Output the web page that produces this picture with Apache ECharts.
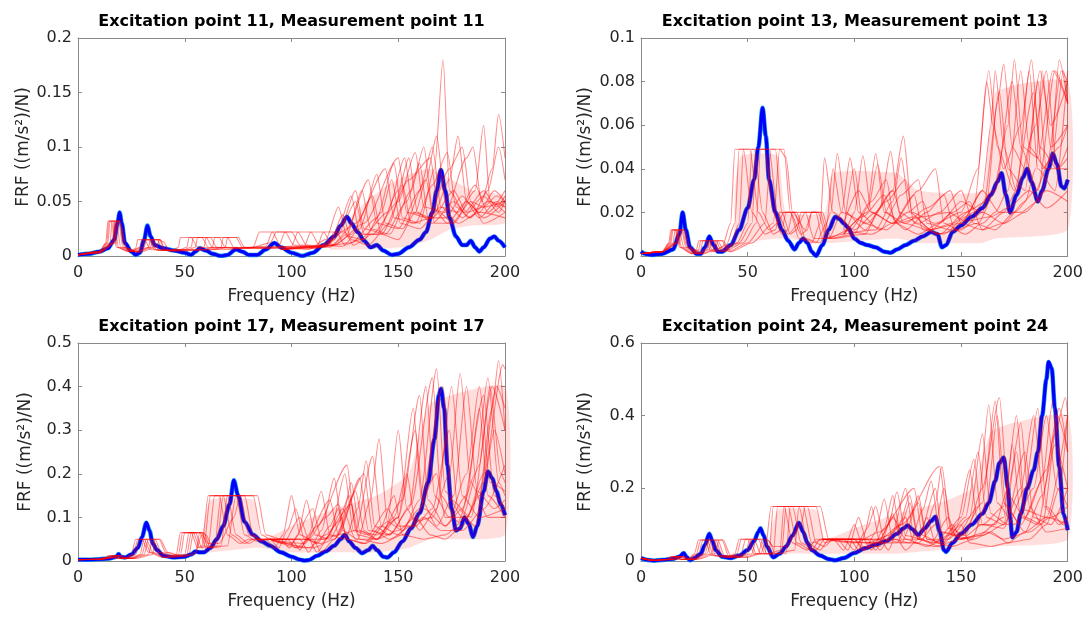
<!DOCTYPE html>
<html><head><meta charset="utf-8">
<script src="https://cdn.jsdelivr.net/npm/echarts@6/dist/echarts.min.js"></script>
<style>html,body{margin:0;padding:0;background:#fff}#c{width:1086px;height:617px}</style>
</head><body><div id="c"></div>
<script>
// ---------------- data ----------------
const xTicks = [0, 50, 100, 150, 200];
const titles = ["Excitation point 11, Measurement point 11", "Excitation point 13, Measurement point 13",
                "Excitation point 17, Measurement point 17", "Excitation point 24, Measurement point 24"];
const yMax = [0.2, 0.1, 0.5, 0.6];
const yStep = [0.05, 0.02, 0.1, 0.2];
const xName = "Frequency (Hz)";
const yName = "FRF ((m/s²)/N)";

const p1Blue = [[0,0.001],[5,0.002],[10,0.004],[14,0.007],[17,0.015],[18.5,0.03],[19.5,0.04],[20.5,0.03],[22,0.012],[25,0.004],[27,0.001],[29,0.003],[31,0.015],[32.5,0.028],[34,0.018],[36,0.01],[40,0.007],[45,0.005],[50,0.003],[53,0.001],[55,0.004],[57,0.007],[60,0.005],[63,0.002],[67,0.0],[70,0.001],[74,0.006],[77,0.004],[80,0.001],[84,0.001],[88,0.006],[92,0.012],[95,0.008],[100,0.003],[105,0.0],[110,0.003],[115,0.01],[120,0.018],[123,0.028],[126,0.036],[128,0.03],[131,0.022],[134,0.014],[137,0.008],[140,0.01],[143,0.005],[147,0.001],[150,0.002],[155,0.008],[160,0.015],[163,0.022],[166,0.04],[168,0.06],[170,0.079],[172,0.06],[174,0.035],[177,0.018],[180,0.01],[182,0.01],[184,0.014],[186,0.008],[188,0.004],[190,0.008],[193,0.016],[195,0.018],[197,0.014],[200,0.008]];
const p1Red = [
[[0,0.001],[10,0.004],[13,0.012],[14,0.032],[15.5,0.032],[18,0.008],[24,0.004],[27,0.007],[28,0.015],[31,0.015],[34,0.006],[44,0.005],[47,0.008],[48,0.017],[53,0.017],[56,0.008],[70,0.006],[82,0.008],[85,0.022],[91,0.022],[95,0.009],[108,0.006],[116,0.015],[122,0.045],[126,0.018],[134,0.015],[142,0.04],[147,0.07],[151,0.03],[160,0.025],[170,0.045],[178,0.03],[188,0.04],[200,0.035]],
[[0,0.001],[10,0.004],[14,0.012],[15,0.032],[17,0.032],[19,0.008],[25,0.004],[29,0.008],[30,0.015],[33,0.015],[36,0.006],[48,0.006],[51,0.008],[52,0.017],[58,0.017],[61,0.008],[75,0.007],[88,0.009],[91,0.022],[97,0.022],[101,0.01],[112,0.007],[120,0.015],[128,0.055],[132,0.02],[140,0.02],[150,0.06],[155,0.09],[159,0.04],[166,0.03],[176,0.05],[183,0.035],[192,0.05],[200,0.045]],
[[0,0.001],[10,0.003],[15,0.012],[16,0.032],[18,0.032],[20,0.008],[26,0.004],[31,0.008],[32,0.015],[35,0.015],[38,0.005],[52,0.006],[55,0.008],[56,0.017],[62,0.017],[65,0.008],[80,0.007],[94,0.009],[97,0.022],[103,0.022],[107,0.01],[118,0.008],[126,0.02],[133,0.06],[137,0.025],[146,0.02],[156,0.06],[162,0.1],[166,0.045],[173,0.03],[182,0.05],[190,0.035],[200,0.05]],
[[0,0.001],[10,0.003],[16,0.012],[17,0.032],[19,0.032],[21,0.008],[27,0.004],[33,0.008],[34,0.015],[37,0.015],[40,0.005],[56,0.006],[59,0.008],[60,0.017],[66,0.017],[69,0.008],[85,0.007],[100,0.009],[103,0.022],[109,0.022],[113,0.01],[124,0.009],[132,0.025],[140,0.075],[144,0.03],[152,0.025],[163,0.07],[168,0.11],[172,0.05],[180,0.035],[190,0.055],[197,0.04],[200,0.05]],
[[0,0.001],[10,0.003],[17,0.012],[18,0.032],[20,0.032],[22,0.008],[28,0.004],[35,0.008],[36,0.015],[38.5,0.015],[41,0.005],[60,0.006],[63,0.008],[64,0.017],[70,0.017],[73,0.008],[88,0.007],[106,0.009],[109,0.022],[115,0.022],[119,0.01],[128,0.012],[140,0.035],[148,0.085],[152,0.035],[160,0.03],[167,0.08],[171,0.18],[174,0.06],[181,0.04],[190,0.06],[196,0.045],[200,0.055]],
[[0,0.001],[10,0.003],[17.5,0.012],[18.5,0.032],[20,0.028],[23,0.006],[28,0.003],[37,0.008],[38,0.015],[40,0.013],[43,0.004],[64,0.006],[67,0.008],[68,0.017],[74,0.017],[77,0.008],[92,0.007],[112,0.009],[115,0.022],[121,0.022],[125,0.01],[132,0.015],[145,0.04],[153,0.09],[157,0.04],[166,0.035],[174,0.07],[178,0.11],[182,0.05],[188,0.04],[195,0.06],[200,0.05]],
[[0,0.001],[10,0.004],[13.5,0.012],[14.5,0.032],[16.5,0.032],[18.5,0.008],[24,0.004],[30,0.008],[31,0.015],[34,0.015],[37,0.005],[66,0.006],[69,0.008],[70,0.017],[75,0.017],[78,0.008],[95,0.008],[117,0.009],[120,0.022],[125,0.022],[129,0.01],[138,0.02],[150,0.05],[158,0.095],[162,0.045],[172,0.04],[182,0.09],[185,0.1],[189,0.05],[194,0.08],[197,0.13],[200,0.09]],
[[0,0.001],[10,0.004],[16.5,0.012],[17.5,0.032],[19.5,0.032],[21.5,0.008],[27,0.004],[34,0.008],[35,0.015],[38,0.015],[41,0.005],[50,0.006],[53,0.008],[54,0.017],[60,0.017],[63,0.008],[80,0.007],[90,0.012],[93,0.022],[100,0.022],[104,0.01],[116,0.008],[124,0.03],[130,0.05],[134,0.02],[142,0.02],[155,0.07],[165,0.09],[169,0.04],[176,0.03],[186,0.06],[190,0.12],[193,0.05],[200,0.04]],
[[95,0.006],[110,0.007],[118,0.012],[124,0.038],[128,0.015],[136,0.01],[146,0.03],[152,0.065],[156,0.03],[166,0.035],[176,0.06],[182,0.04],[190,0.045],[200,0.05]],
[[95,0.006],[112,0.008],[122,0.02],[130,0.06],[134,0.025],[144,0.02],[154,0.05],[160,0.085],[164,0.035],[172,0.035],[180,0.055],[188,0.035],[196,0.05],[200,0.045]],
[[95,0.006],[115,0.008],[126,0.025],[136,0.07],[140,0.03],[150,0.025],[160,0.06],[166,0.1],[170,0.045],[178,0.04],[186,0.065],[192,0.04],[200,0.06]],
[[95,0.006],[118,0.009],[130,0.03],[144,0.08],[148,0.035],[158,0.03],[166,0.065],[173,0.095],[177,0.045],[184,0.035],[192,0.06],[197,0.1],[200,0.07]],
[[95,0.006],[120,0.01],[134,0.03],[150,0.09],[154,0.04],[164,0.035],[174,0.08],[180,0.1],[184,0.05],[190,0.045],[196,0.055],[200,0.05]],
[[95,0.006],[120,0.01],[128,0.02],[138,0.055],[142,0.02],[150,0.015],[158,0.04],[163,0.07],[167,0.03],[175,0.03],[184,0.05],[190,0.03],[200,0.04]]
];
const p1Band = [[118,0.006,0.01],[125,0.006,0.03],[135,0.006,0.05],[145,0.007,0.065],[155,0.009,0.075],[165,0.015,0.08],[175,0.025,0.07],[185,0.028,0.06],[200,0.03,0.055]];

const p2Blue = [[0,0.002],[2,0.001],[5,0.0005],[10,0.001],[15,0.003],[18,0.01],[19.5,0.02],[21,0.012],[23,0.004],[26,0.001],[28,0.001],[30,0.004],[32,0.009],[34,0.005],[36,0.002],[38,0.002],[42,0.005],[46,0.012],[50,0.022],[53,0.035],[55,0.05],[57,0.068],[58.5,0.055],[60,0.035],[63,0.02],[66,0.012],[69,0.007],[72,0.003],[74,0.006],[76,0.008],[78,0.006],[80,0.002],[82,0.0],[85,0.005],[88,0.012],[91,0.018],[93,0.017],[95,0.015],[97,0.013],[100,0.008],[103,0.006],[106,0.005],[110,0.004],[114,0.002],[117,0.0015],[120,0.003],[124,0.005],[128,0.007],[132,0.009],[136,0.011],[139,0.01],[141,0.004],[143,0.005],[146,0.011],[150,0.014],[155,0.018],[160,0.022],[164,0.028],[167,0.034],[169,0.038],[171,0.028],[173,0.02],[176,0.028],[179,0.036],[181,0.04],[183,0.034],[186,0.025],[188,0.03],[191,0.04],[193,0.047],[195,0.042],[197,0.032],[198.5,0.031],[200,0.035]];
const p2Red = [
[[0,0.001],[10,0.002],[13,0.006],[14,0.012],[16,0.012],[18,0.004],[24,0.001],[26,0.003],[27,0.007],[30,0.007],[33,0.002],[38,0.004],[42,0.015],[44,0.049],[48,0.049],[52,0.02],[58,0.01],[63,0.012],[65,0.02],[70,0.02],[74,0.008],[80,0.006],[84,0.015],[86,0.045],[90,0.02],[100,0.012],[110,0.02],[118,0.03],[123,0.015],[135,0.012],[150,0.015],[160,0.03],[164,0.06],[166,0.085],[170,0.05],[176,0.03],[185,0.06],[190,0.085],[195,0.04],[200,0.05]],
[[0,0.001],[10,0.002],[14,0.006],[15,0.012],[17,0.012],[19,0.004],[25,0.001],[28,0.003],[29,0.007],[32,0.007],[35,0.002],[42,0.005],[46,0.015],[48,0.049],[53,0.049],[57,0.02],[62,0.01],[66,0.012],[68,0.02],[73,0.02],[77,0.008],[84,0.006],[89,0.02],[92,0.047],[96,0.02],[105,0.012],[115,0.025],[124,0.035],[128,0.015],[140,0.01],[152,0.02],[162,0.025],[167,0.07],[170,0.088],[174,0.05],[180,0.04],[187,0.085],[192,0.06],[200,0.08]],
[[0,0.001],[10,0.002],[15,0.006],[16,0.012],[18,0.012],[20,0.004],[26,0.001],[30,0.003],[31,0.007],[34,0.007],[37,0.002],[45,0.006],[50,0.015],[52,0.049],[58,0.049],[62,0.02],[66,0.01],[69,0.012],[71,0.02],[77,0.02],[81,0.008],[88,0.008],[94,0.02],[98,0.045],[102,0.02],[112,0.012],[122,0.028],[130,0.035],[134,0.015],[145,0.012],[156,0.02],[165,0.03],[172,0.06],[175,0.09],[179,0.05],[186,0.045],[193,0.085],[200,0.07]],
[[0,0.001],[10,0.002],[16,0.006],[17,0.012],[19,0.012],[21,0.004],[27,0.001],[32,0.003],[33,0.007],[36,0.007],[39,0.002],[48,0.006],[54,0.015],[56,0.049],[63,0.049],[66,0.02],[70,0.01],[73,0.012],[75,0.02],[82,0.02],[85,0.008],[95,0.01],[100,0.02],[104,0.046],[108,0.02],[118,0.015],[130,0.03],[138,0.04],[142,0.015],[152,0.01],[160,0.015],[166,0.02],[172,0.03],[178,0.085],[182,0.05],[190,0.04],[197,0.085],[200,0.08]],
[[0,0.001],[10,0.002],[17,0.006],[18,0.012],[20,0.012],[22,0.004],[28,0.001],[34,0.003],[35,0.007],[38,0.007],[41,0.002],[50,0.006],[58,0.015],[61,0.049],[67,0.049],[70,0.02],[75,0.01],[78,0.012],[80,0.02],[84,0.02],[88,0.008],[100,0.01],[106,0.022],[110,0.047],[114,0.02],[124,0.015],[134,0.022],[145,0.03],[150,0.015],[160,0.012],[170,0.015],[180,0.025],[185,0.04],[188,0.085],[192,0.05],[200,0.06]],
[[0,0.001],[10,0.002],[18,0.006],[19,0.012],[20.5,0.012],[23,0.004],[29,0.001],[35,0.003],[36,0.007],[38.5,0.007],[42,0.002],[52,0.006],[62,0.015],[65,0.049],[68,0.045],[71,0.02],[77,0.012],[80,0.02],[85,0.02],[89,0.008],[105,0.01],[112,0.022],[117,0.048],[121,0.02],[130,0.015],[140,0.02],[150,0.03],[156,0.015],[166,0.012],[175,0.02],[185,0.03],[192,0.045],[196,0.09],[200,0.07]],
[[0,0.001],[10,0.002],[13.5,0.006],[14.5,0.012],[16.5,0.012],[18.5,0.004],[24,0.001],[27,0.003],[28,0.007],[31,0.007],[34,0.002],[40,0.005],[44,0.015],[46,0.049],[51,0.049],[55,0.02],[60,0.012],[64,0.015],[67,0.02],[72,0.02],[76,0.008],[82,0.006],[87,0.015],[90,0.04],[94,0.02],[106,0.015],[118,0.03],[123,0.055],[127,0.02],[138,0.015],[150,0.02],[158,0.04],[162,0.08],[165,0.06],[170,0.04],[178,0.06],[183,0.09],[187,0.05],[195,0.04],[200,0.045]],
[[0,0.001],[10,0.002],[16.5,0.006],[17.5,0.012],[19.5,0.012],[21.5,0.004],[27,0.001],[31,0.003],[32,0.007],[35,0.007],[38,0.002],[46,0.006],[52,0.015],[54,0.049],[60,0.049],[64,0.02],[69,0.01],[74,0.015],[77,0.02],[83,0.02],[87,0.008],[98,0.012],[108,0.025],[115,0.035],[119,0.015],[130,0.01],[140,0.015],[150,0.025],[160,0.02],[170,0.015],[180,0.02],[190,0.03],[200,0.025]],
[[95,0.012],[100,0.04],[104,0.015],[115,0.012],[125,0.02],[132,0.025],[138,0.01],[150,0.012],[160,0.02],[168,0.075],[172,0.04],[180,0.03],[186,0.08],[190,0.04],[200,0.04]],
[[95,0.01],[106,0.02],[111,0.042],[115,0.02],[124,0.012],[134,0.02],[142,0.028],[147,0.012],[158,0.015],[166,0.03],[174,0.08],[178,0.05],[186,0.03],[194,0.085],[200,0.07]],
[[95,0.01],[110,0.012],[118,0.025],[122,0.045],[126,0.02],[136,0.012],[146,0.02],[154,0.025],[160,0.012],[170,0.02],[176,0.03],[182,0.085],[186,0.04],[194,0.03],[200,0.085]],
[[95,0.015],[102,0.03],[108,0.02],[118,0.015],[128,0.018],[136,0.012],[146,0.015],[156,0.022],[163,0.085],[167,0.05],[175,0.03],[184,0.075],[188,0.04],[196,0.05],[200,0.06]],
[[95,0.012],[108,0.01],[118,0.015],[128,0.028],[132,0.012],[142,0.01],[152,0.018],[160,0.03],[168,0.02],[178,0.02],[186,0.025],[192,0.04],[198,0.085],[200,0.07]],
[[95,0.01],[104,0.018],[114,0.028],[120,0.015],[132,0.018],[144,0.02],[152,0.016],[164,0.018],[172,0.022],[182,0.03],[190,0.022],[200,0.03]]
];
const p2Band = [[44,0.004,0.03],[47,0.006,0.046],[64,0.008,0.046],[68,0.008,0.02],[86,0.006,0.02],[90,0.006,0.038],[120,0.008,0.038],[130,0.006,0.03],[160,0.006,0.03],[166,0.008,0.075],[200,0.012,0.08]];

const p3Blue = [[0,0.003],[5,0.003],[10,0.004],[15,0.006],[18,0.01],[19,0.016],[20,0.01],[22,0.008],[25,0.015],[28,0.03],[30,0.055],[32,0.088],[33.5,0.07],[35,0.04],[37,0.025],[40,0.012],[45,0.008],[50,0.01],[53,0.015],[55,0.022],[57,0.02],[59,0.02],[62,0.03],[65,0.05],[68,0.08],[71,0.13],[73,0.185],[75,0.15],[78,0.09],[82,0.06],[86,0.045],[90,0.035],[95,0.02],[100,0.01],[104,0.003],[106,0.001],[108,0.002],[112,0.012],[116,0.022],[120,0.035],[123,0.05],[125,0.06],[127,0.045],[130,0.03],[133,0.018],[136,0.025],[138,0.035],[140,0.025],[143,0.01],[145,0.008],[148,0.02],[152,0.045],[156,0.075],[160,0.11],[164,0.18],[167,0.28],[169,0.38],[170,0.395],[171.5,0.35],[173,0.22],[175,0.12],[177,0.07],[179,0.075],[181,0.1],[183,0.085],[185,0.055],[187,0.08],[190,0.16],[192,0.205],[194,0.19],[196,0.16],[198,0.13],[200,0.105]];
const p3Red = [
[[0,0.003],[10,0.004],[13,0.008],[14,0.012],[16,0.012],[18,0.006],[22,0.006],[25,0.015],[27,0.05],[30,0.05],[33,0.02],[40,0.008],[46,0.015],[48,0.065],[53,0.065],[56,0.03],[58,0.035],[61,0.15],[66,0.15],[70,0.06],[76,0.04],[80,0.05],[88,0.05],[92,0.03],[96,0.06],[100,0.15],[104,0.06],[112,0.04],[118,0.08],[122,0.12],[126,0.05],[135,0.04],[145,0.09],[150,0.3],[154,0.12],[160,0.07],[168,0.12],[175,0.4],[180,0.15],[188,0.1],[200,0.12]],
[[0,0.003],[10,0.004],[14,0.008],[15,0.012],[17,0.012],[19,0.006],[23,0.006],[27,0.015],[29,0.05],[32,0.05],[35,0.02],[42,0.008],[48,0.015],[50,0.065],[55,0.065],[58,0.03],[61,0.035],[64,0.15],[70,0.15],[74,0.06],[80,0.04],[84,0.05],[95,0.05],[99,0.03],[103,0.06],[107,0.14],[111,0.06],[118,0.05],[124,0.1],[128,0.18],[132,0.07],[140,0.05],[150,0.1],[157,0.35],[161,0.14],[168,0.08],[176,0.15],[182,0.4],[187,0.16],[195,0.12],[200,0.14]],
[[0,0.003],[10,0.004],[15,0.008],[16,0.012],[18,0.012],[20,0.006],[24,0.006],[29,0.015],[31,0.05],[34,0.05],[37,0.02],[44,0.01],[50,0.015],[52,0.065],[57,0.065],[60,0.03],[64,0.035],[67,0.15],[74,0.15],[78,0.06],[84,0.045],[88,0.05],[100,0.05],[104,0.025],[108,0.06],[114,0.16],[118,0.06],[125,0.05],[131,0.12],[135,0.23],[139,0.08],[146,0.06],[155,0.12],[163,0.4],[167,0.15],[174,0.1],[182,0.2],[188,0.4],[193,0.18],[200,0.16]],
[[0,0.003],[10,0.004],[16,0.008],[17,0.012],[19,0.012],[21,0.006],[25,0.006],[31,0.015],[33,0.05],[36,0.05],[39,0.02],[46,0.01],[52,0.015],[54,0.065],[59,0.065],[62,0.03],[67,0.035],[70,0.15],[78,0.15],[82,0.06],[86,0.045],[90,0.05],[104,0.05],[108,0.02],[114,0.07],[120,0.19],[124,0.07],[131,0.05],[137,0.14],[141,0.28],[145,0.09],[152,0.07],[160,0.14],[168,0.44],[172,0.16],[180,0.1],[188,0.22],[193,0.4],[198,0.2],[200,0.18]],
[[0,0.003],[10,0.004],[17,0.008],[18,0.012],[20,0.012],[22,0.006],[26,0.006],[33,0.015],[35,0.05],[38,0.05],[41,0.02],[48,0.01],[55,0.015],[57,0.065],[60,0.06],[63,0.03],[70,0.035],[74,0.15],[82,0.15],[86,0.06],[90,0.05],[108,0.05],[112,0.02],[118,0.06],[125,0.2],[129,0.07],[136,0.06],[145,0.12],[150,0.08],[158,0.08],[166,0.12],[174,0.3],[178,0.12],[186,0.08],[194,0.35],[197,0.46],[200,0.3]],
[[0,0.003],[10,0.004],[18,0.008],[19,0.012],[20.5,0.012],[23,0.006],[27,0.006],[35,0.015],[36,0.05],[38.5,0.05],[42,0.02],[50,0.01],[55,0.02],[58,0.06],[61,0.04],[66,0.04],[73,0.1],[76,0.15],[84,0.15],[88,0.06],[95,0.05],[110,0.05],[114,0.02],[120,0.05],[130,0.16],[134,0.07],[140,0.05],[150,0.07],[158,0.1],[165,0.06],[172,0.05],[180,0.08],[188,0.15],[196,0.4],[200,0.35]],
[[0,0.003],[10,0.004],[13.5,0.008],[14.5,0.012],[16.5,0.012],[18.5,0.006],[22,0.006],[26,0.015],[28,0.05],[31,0.05],[34,0.02],[41,0.008],[47,0.015],[49,0.065],[54,0.065],[57,0.03],[59,0.035],[62,0.15],[68,0.15],[72,0.06],[78,0.04],[82,0.05],[90,0.05],[94,0.03],[98,0.07],[102,0.12],[106,0.05],[114,0.04],[122,0.09],[127,0.15],[131,0.06],[140,0.05],[148,0.1],[154,0.2],[158,0.09],[166,0.1],[174,0.2],[179,0.43],[184,0.18],[192,0.1],[200,0.1]],
[[0,0.003],[10,0.004],[16.5,0.008],[17.5,0.012],[19.5,0.012],[21.5,0.006],[25,0.006],[30,0.015],[32,0.05],[35,0.05],[38,0.02],[45,0.008],[51,0.015],[53,0.065],[58,0.065],[61,0.03],[65,0.035],[68,0.15],[76,0.15],[80,0.06],[86,0.05],[98,0.05],[102,0.03],[108,0.05],[116,0.1],[122,0.13],[126,0.05],[134,0.04],[142,0.08],[148,0.15],[152,0.06],[162,0.05],[172,0.06],[182,0.1],[190,0.18],[195,0.3],[200,0.2]],
[[90,0.05],[96,0.04],[104,0.1],[108,0.05],[116,0.05],[124,0.12],[130,0.05],[140,0.05],[152,0.14],[160,0.38],[164,0.14],[172,0.08],[180,0.12],[190,0.38],[195,0.15],[200,0.12]],
[[90,0.05],[100,0.04],[110,0.12],[114,0.05],[122,0.06],[132,0.19],[136,0.07],[146,0.06],[156,0.13],[166,0.42],[170,0.15],[178,0.09],[186,0.2],[192,0.42],[197,0.18],[200,0.15]],
[[90,0.05],[106,0.04],[118,0.14],[122,0.06],[130,0.07],[138,0.24],[142,0.08],[150,0.06],[160,0.12],[171,0.4],[175,0.14],[184,0.1],[194,0.4],[200,0.3]],
[[90,0.05],[104,0.03],[112,0.08],[126,0.22],[130,0.07],[140,0.06],[150,0.1],[158,0.3],[162,0.12],[172,0.08],[182,0.15],[188,0.35],[192,0.15],[200,0.1]],
[[90,0.05],[110,0.03],[120,0.05],[134,0.2],[138,0.07],[146,0.05],[156,0.08],[168,0.2],[172,0.1],[182,0.1],[190,0.2],[199,0.45],[200,0.44]],
[[90,0.05],[108,0.03],[116,0.06],[128,0.13],[132,0.05],[142,0.04],[152,0.06],[162,0.1],[170,0.07],[180,0.07],[190,0.12],[200,0.22]]
];
const p3Band = [[58,0.02,0.05],[62,0.02,0.14],[82,0.03,0.14],[86,0.03,0.05],[100,0.02,0.08],[120,0.02,0.12],[140,0.02,0.15],[155,0.03,0.2],[165,0.05,0.36],[200,0.06,0.4]];

const p4Blue = [[0,0.008],[3,0.003],[6,0.001],[10,0.003],[15,0.006],[18,0.012],[20,0.022],[21.5,0.01],[23,0.002],[25,0.008],[28,0.02],[30,0.045],[32,0.075],[33.5,0.055],[35,0.03],[38,0.012],[42,0.008],[46,0.015],[50,0.03],[53,0.055],[55,0.08],[56,0.09],[57.5,0.07],[59,0.04],[62,0.01],[65,0.02],[68,0.04],[71,0.07],[74,0.105],[76,0.08],[78,0.05],[80,0.03],[84,0.015],[88,0.005],[91,0.002],[95,0.008],[100,0.022],[105,0.035],[110,0.045],[115,0.055],[120,0.075],[123,0.09],[125,0.098],[127,0.088],[130,0.072],[133,0.09],[136,0.11],[138,0.122],[140,0.08],[142,0.03],[143,0.025],[146,0.05],[150,0.075],[155,0.1],[160,0.13],[163,0.16],[166,0.22],[168,0.27],[170,0.285],[172,0.2],[173,0.12],[174,0.065],[176,0.08],[178,0.13],[181,0.2],[184,0.25],[186,0.3],[188,0.4],[190,0.5],[191,0.548],[192.5,0.53],[194,0.42],[196,0.26],[198,0.13],[200,0.085]];
const p4Red = [
[[0,0.008],[6,0.002],[12,0.005],[14,0.012],[16,0.012],[18,0.004],[22,0.005],[25,0.02],[27,0.058],[30,0.058],[33,0.015],[40,0.01],[44,0.02],[46,0.06],[50,0.06],[53,0.02],[58,0.02],[61,0.15],[67,0.15],[71,0.05],[78,0.03],[82,0.06],[90,0.06],[95,0.03],[100,0.1],[104,0.04],[112,0.04],[118,0.13],[122,0.05],[130,0.05],[138,0.1],[142,0.2],[146,0.07],[155,0.06],[162,0.16],[167,0.4],[171,0.15],[180,0.08],[190,0.12],[200,0.1]],
[[0,0.008],[6,0.002],[13,0.005],[15,0.012],[17,0.012],[19,0.004],[23,0.005],[27,0.02],[29,0.058],[32,0.058],[35,0.015],[42,0.01],[47,0.02],[49,0.06],[53,0.06],[56,0.02],[62,0.02],[64,0.15],[71,0.15],[75,0.05],[82,0.03],[86,0.06],[95,0.06],[100,0.03],[105,0.08],[108,0.15],[112,0.05],[120,0.05],[126,0.12],[130,0.18],[134,0.06],[142,0.05],[152,0.12],[158,0.3],[162,0.12],[170,0.1],[178,0.2],[184,0.4],[189,0.15],[196,0.1],[200,0.12]],
[[0,0.008],[6,0.002],[14,0.005],[16,0.012],[18,0.012],[20,0.004],[24,0.005],[29,0.02],[31,0.058],[34,0.058],[37,0.015],[44,0.01],[49,0.02],[51,0.06],[55,0.06],[58,0.02],[65,0.02],[67,0.15],[74,0.15],[78,0.05],[84,0.03],[88,0.06],[100,0.06],[105,0.03],[110,0.08],[114,0.17],[118,0.06],[126,0.05],[132,0.14],[136,0.22],[140,0.08],[148,0.07],[158,0.15],[163,0.43],[167,0.16],[175,0.1],[184,0.2],[190,0.4],[195,0.2],[200,0.15]],
[[0,0.008],[6,0.002],[15,0.005],[17,0.012],[19,0.012],[21,0.004],[25,0.005],[31,0.02],[33,0.058],[36,0.058],[39,0.015],[46,0.01],[52,0.02],[54,0.06],[58,0.06],[61,0.02],[68,0.02],[70,0.15],[78,0.15],[82,0.05],[86,0.04],[90,0.06],[106,0.06],[110,0.03],[116,0.1],[120,0.19],[124,0.07],[132,0.06],[138,0.16],[141,0.26],[145,0.09],[152,0.07],[160,0.2],[168,0.45],[172,0.18],[180,0.12],[190,0.25],[195,0.4],[200,0.3]],
[[0,0.008],[6,0.002],[16,0.005],[18,0.012],[20,0.012],[22,0.004],[26,0.005],[33,0.02],[35,0.058],[38,0.058],[41,0.015],[48,0.01],[55,0.02],[57,0.06],[60,0.055],[63,0.02],[72,0.03],[74,0.15],[82,0.15],[86,0.05],[92,0.06],[112,0.06],[116,0.03],[120,0.08],[126,0.18],[130,0.06],[138,0.05],[146,0.1],[150,0.06],[160,0.07],[170,0.1],[176,0.3],[180,0.12],[188,0.1],[196,0.42],[200,0.3]],
[[0,0.008],[6,0.002],[17,0.005],[19,0.012],[20.5,0.012],[23,0.004],[27,0.005],[35,0.02],[36.5,0.058],[38.5,0.058],[42,0.015],[50,0.01],[56,0.02],[59,0.06],[62,0.04],[68,0.04],[75,0.1],[77,0.15],[84,0.15],[88,0.06],[98,0.06],[120,0.06],[124,0.03],[130,0.06],[134,0.12],[138,0.05],[146,0.04],[156,0.06],[164,0.08],[172,0.05],[182,0.06],[190,0.1],[196,0.2],[200,0.4]],
[[0,0.008],[6,0.002],[13.5,0.005],[14.5,0.012],[16.5,0.012],[18.5,0.004],[22,0.005],[26,0.02],[28,0.058],[31,0.058],[34,0.015],[41,0.01],[45,0.02],[47,0.06],[51,0.06],[54,0.02],[60,0.02],[62,0.15],[69,0.15],[73,0.05],[80,0.03],[84,0.06],[92,0.06],[97,0.03],[102,0.12],[106,0.05],[114,0.05],[122,0.1],[126,0.16],[130,0.06],[140,0.04],[148,0.1],[154,0.25],[158,0.1],[166,0.1],[172,0.2],[178,0.38],[182,0.15],[190,0.08],[200,0.09]],
[[0,0.008],[6,0.002],[16.5,0.005],[17.5,0.012],[19.5,0.012],[21.5,0.004],[25,0.005],[30,0.02],[32,0.058],[35,0.058],[38,0.015],[45,0.01],[50,0.02],[52,0.06],[56,0.06],[59,0.02],[66,0.03],[68,0.15],[76,0.15],[80,0.05],[86,0.06],[100,0.06],[104,0.03],[112,0.06],[118,0.12],[124,0.06],[134,0.04],[144,0.07],[150,0.1],[154,0.05],[164,0.04],[172,0.05],[180,0.08],[188,0.18],[194,0.32],[200,0.2]],
[[85,0.06],[98,0.06],[102,0.03],[106,0.09],[110,0.15],[114,0.06],[122,0.05],[130,0.16],[134,0.06],[144,0.06],[154,0.12],[160,0.35],[164,0.13],[172,0.1],[180,0.2],[186,0.42],[190,0.15],[198,0.1],[200,0.12]],
[[85,0.06],[104,0.06],[108,0.03],[114,0.09],[118,0.18],[122,0.06],[130,0.06],[138,0.2],[141,0.08],[150,0.07],[160,0.16],[166,0.44],[170,0.16],[178,0.1],[188,0.22],[193,0.44],[198,0.2],[200,0.2]],
[[85,0.06],[108,0.06],[112,0.03],[118,0.08],[124,0.2],[128,0.07],[136,0.05],[144,0.12],[148,0.06],[158,0.07],[170,0.12],[174,0.32],[178,0.12],[186,0.1],[194,0.35],[199,0.45],[200,0.4]],
[[85,0.06],[100,0.05],[112,0.08],[128,0.2],[132,0.07],[140,0.05],[150,0.12],[156,0.28],[160,0.1],[170,0.09],[180,0.3],[184,0.12],[192,0.1],[200,0.2]],
[[85,0.06],[110,0.05],[122,0.1],[140,0.26],[144,0.09],[150,0.06],[160,0.1],[170,0.15],[176,0.4],[180,0.14],[190,0.12],[200,0.4]],
[[85,0.06],[106,0.05],[116,0.07],[124,0.12],[128,0.05],[138,0.04],[150,0.06],[162,0.08],[170,0.06],[182,0.08],[192,0.12],[200,0.15]]
];
const p4Band = [[60,0.01,0.05],[64,0.02,0.14],[82,0.02,0.14],[86,0.02,0.06],[100,0.02,0.09],[120,0.02,0.13],[140,0.03,0.16],[155,0.03,0.2],[165,0.04,0.36],[200,0.06,0.4]];

const blues = [p1Blue, p2Blue, p3Blue, p4Blue];
const reds = [p1Red, p2Red, p3Red, p4Red];
const bands = [p1Band, p2Band, p3Band, p4Band];

// ---------------- layout / style ----------------
const FONT = "'DejaVu Sans', 'Liberation Sans', sans-serif";
const grids = [
  {left: 78, top: 38, width: 427, height: 218},
  {left: 641, top: 38, width: 428, height: 218},
  {left: 78, top: 343, width: 427, height: 218},
  {left: 641, top: 343, width: 428, height: 218}
];
const boxColor = '#8a8a8a';
const labelColor = '#262626';

const xAxes = [], yAxes = [], series = [], graphics = [], blueSeriesIdx = [];
grids.forEach((g, i) => {
  const baseX = {
    type: 'value', gridIndex: i, min: xTicks[0], max: xTicks[xTicks.length - 1],
    interval: xTicks[1] - xTicks[0],
    axisLine: {show: true, onZero: false, lineStyle: {color: boxColor, width: 1}},
    axisTick: {show: true, inside: true, length: 4, lineStyle: {color: boxColor}},
    splitLine: {show: false}
  };
  xAxes.push(Object.assign({}, baseX, {
    position: 'bottom',
    axisLabel: {color: labelColor, fontSize: 16, fontFamily: FONT, margin: 9},
    name: xName, nameLocation: 'middle', nameGap: 32,
    nameTextStyle: {color: labelColor, fontSize: 17, fontFamily: FONT}
  }));
  xAxes.push(Object.assign({}, baseX, {position: 'top', axisLabel: {show: false}}));
  const baseY = {
    type: 'value', gridIndex: i, min: 0, max: yMax[i], interval: yStep[i],
    axisLine: {show: true, onZero: false, lineStyle: {color: boxColor, width: 1}},
    axisTick: {show: true, inside: true, length: 4, lineStyle: {color: boxColor}},
    splitLine: {show: false}
  };
  yAxes.push(Object.assign({}, baseY, {
    position: 'left',
    axisLabel: {color: labelColor, fontSize: 16, fontFamily: FONT, margin: 6},
    name: yName, nameLocation: 'middle', nameGap: (i % 2 === 0 ? 44 : 47),
    nameTextStyle: {color: labelColor, fontSize: 17, fontFamily: FONT}
  }));
  yAxes.push(Object.assign({}, baseY, {position: 'right', axisLabel: {show: false}}));

  // measured (cyan under-layer)
  series.push({
    type: 'line', xAxisIndex: 2 * i, yAxisIndex: 2 * i, data: blues[i],
    smooth: 0.3, smoothMonotone: 'x', showSymbol: false, z: 2, silent: true,
    lineStyle: {color: '#1c8fe8', width: 4.5}
  });
  // model (blue)
  blueSeriesIdx.push(series.length);
  series.push({
    type: 'line', xAxisIndex: 2 * i, yAxisIndex: 2 * i, data: blues[i],
    smooth: 0.3, smoothMonotone: 'x', showSymbol: false, z: 3, silent: true,
    lineStyle: {color: '#0000ff', width: 3.2}
  });
  // uncertain FRFs (red, on top)
  reds[i].forEach(curve => {
    series.push({
      type: 'line', xAxisIndex: 2 * i, yAxisIndex: 2 * i, data: curve,
      smooth: 0.25, smoothMonotone: 'x', showSymbol: false, z: 5, silent: true,
      lineStyle: {color: 'rgba(255,0,0,0.45)', width: 1.1}
    });
  });
  graphics.push({
    type: 'text', x: g.left + g.width / 2, y: g.top - 16, z: 10,
    style: {text: titles[i], textAlign: 'center', textVerticalAlign: 'middle',
            font: "bold 16px " + FONT, fill: '#000'}
  });
});

const chart = echarts.init(document.getElementById('c'), null, {renderer: 'canvas'});
chart.setOption({
  animation: false,
  backgroundColor: '#fff',
  grid: grids.map(g => Object.assign({containLabel: false}, g)),
  xAxis: xAxes, yAxis: yAxes, series: series, graphic: graphics
});

// faint red cloud where the uncertain FRFs overlap densely, mapped through each panel's axes
const bandGraphics = bands.map((band, i) => {
  const finder = {seriesIndex: blueSeriesIdx[i]};
  const lower = band.map(p => chart.convertToPixel(finder, [p[0], p[1]]));
  const upper = band.slice().reverse().map(p => chart.convertToPixel(finder, [p[0], p[2]]));
  return {type: 'polygon', z: 4, silent: true,
          shape: {points: lower.concat(upper), smooth: 0.15},
          style: {fill: 'rgba(255,0,0,0.13)'}};
});
chart.setOption({graphic: graphics.concat(bandGraphics)});
</script></body></html>
